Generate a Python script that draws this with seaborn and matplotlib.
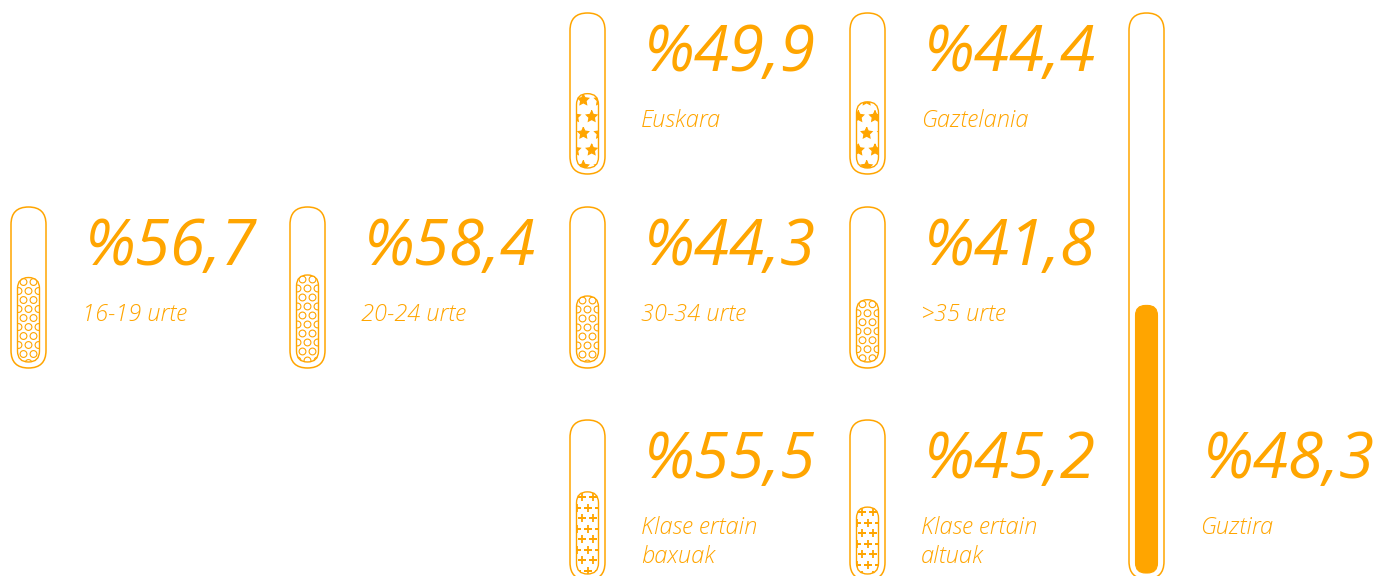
import numpy as np
import pandas as pd
import seaborn as sns
import matplotlib
matplotlib.use("Agg")
import matplotlib.pyplot as plt
from matplotlib.patches import FancyBboxPatch
from matplotlib.font_manager import FontProperties

# ---- data ----
categories = ["16-19 urte", "20-24 urte", "30-34 urte", ">35 urte",
              "Euskara", "Gaztelania",
              "Klase ertain\nbaxuak", "Klase ertain\naltuak", "Guztira"]
values = [56.7, 58.4, 44.3, 41.8, 49.9, 44.4, 55.5, 45.2, 48.3]
groups = ["adina"] * 4 + ["hizkuntza"] * 2 + ["klasea"] * 2 + ["guztira"]

# ---- layout (pixels) ----
pill_x = [11, 290, 570, 850, 570, 850, 570, 850, 1129]
pill_top = [207, 207, 207, 207, 13, 13, 420, 420, 13]
pill_h = [161, 161, 161, 161, 161, 161, 160, 160, 566]
text_top = [207, 207, 207, 207, 13, 13, 420, 420, 420]
PILL_W = 35
INSET_X = 6.5
INSET_Y = 6
ORANGE = "#FFA500"

df = pd.DataFrame({"label": categories, "value": values, "group": groups,
                   "x": pill_x, "top": pill_top, "h": pill_h, "ttop": text_top})

sns.set_theme(style="white")
plt.rcParams["font.family"] = ["Open Sans", "DejaVu Sans"]
plt.rcParams["hatch.linewidth"] = 0.9

num_font = FontProperties(family="Open Sans", style="italic", weight=400,
                          stretch="normal", size=46)
lab_font = FontProperties(family="Open Sans", style="italic", weight=300,
                          stretch="normal", size=17)

fig = plt.figure(figsize=(13.78, 5.76), dpi=100)
ax = fig.add_axes([0, 0, 1, 1])
ax.set_xlim(0, 1378)
ax.set_ylim(576, 0)
ax.axis("off")


def pattern_points(fx, ftop, fw, fbottom, dx, dy):
    pts = []
    yy = ftop + dy / 2
    k = 0
    while yy < fbottom + dy:
        start = fx + (dx / 2 if k % 2 == 0 else 0) - dx
        xx = start
        while xx < fx + fw + dx:
            pts.append((xx, yy))
            xx += dx
        yy += dy
        k += 1
    return np.array(pts)


for _, r in df.iterrows():
    outer = FancyBboxPatch((r["x"], r["top"]), PILL_W, r["h"],
                           boxstyle=f"round,pad=0,rounding_size={PILL_W/2}",
                           fc="none", ec=ORANGE, lw=1.1, zorder=2)
    ax.add_patch(outer)
    fw = PILL_W - 2 * INSET_X
    avail = r["h"] - 2 * INSET_Y
    fh = r["value"] / 100.0 * avail
    fx = r["x"] + INSET_X
    fbottom = r["top"] + r["h"] - INSET_Y
    ftop = fbottom - fh
    if r["group"] == "guztira":
        inner = FancyBboxPatch((fx, ftop), fw, fh,
                               boxstyle=f"round,pad=0,rounding_size={fw/2 - 1}",
                               fc=ORANGE, ec=ORANGE, lw=0.8, zorder=3)
        ax.add_patch(inner)
    else:
        hatch = "*" if r["group"] == "hizkuntza" else None
        inner = FancyBboxPatch((fx, ftop), fw, fh,
                               boxstyle=f"round,pad=0,rounding_size={fw/2}",
                               fc="white", ec=ORANGE, lw=1.0, hatch=hatch, zorder=3)
        ax.add_patch(inner)
        if r["group"] == "klasea":
            pts = pattern_points(fx, ftop, fw, fbottom, 11, 10.5)
            sc = ax.scatter(pts[:, 0], pts[:, 1], marker="+", s=36,
                            c=ORANGE, linewidths=1.3, zorder=4)
            sc.set_clip_path(inner)
        elif r["group"] == "adina":
            pts = pattern_points(fx + 1, ftop, fw, fbottom, 10, 9)
            sc = ax.scatter(pts[:, 0], pts[:, 1], marker="o", s=24,
                            facecolors="none", edgecolors=ORANGE,
                            linewidths=0.8, zorder=4)
            sc.set_clip_path(inner)
    num = "%" + f"{r['value']:.1f}".replace(".", ",")
    ax.text(r["x"] + 74, r["ttop"] + 58, num, fontproperties=num_font,
            color=ORANGE, ha="left", va="baseline", zorder=5)
    for i, line in enumerate(r["label"].split("\n")):
        ax.text(r["x"] + 71, r["ttop"] + 114 + i * 29, line,
                fontproperties=lab_font, color=ORANGE,
                ha="left", va="baseline", zorder=5)

fig.savefig("out.png", dpi=100, facecolor="white")
